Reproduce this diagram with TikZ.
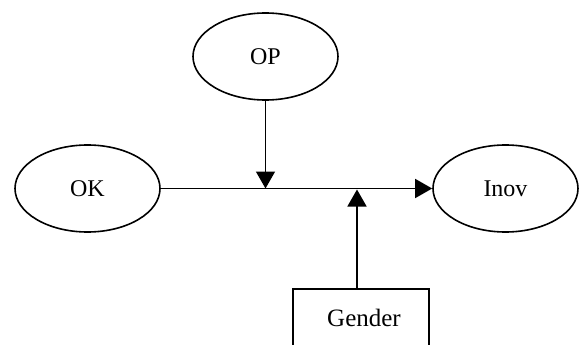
\documentclass[tikz,border=0pt]{standalone}
\usepackage{fontspec}
\setmainfont{Liberation Serif}
\usetikzlibrary{shapes.geometric,arrows.meta}
\begin{document}
\begin{tikzpicture}[x=1pt,y=-1pt,
  ell/.style={draw,ellipse,line width=1.6pt,minimum width=145pt,minimum height=87pt,inner sep=0pt,font=\fontsize{24}{27}\selectfont},
  boxnode/.style={draw,rectangle,line width=1.6pt,minimum width=136pt,minimum height=72pt,inner sep=0pt},
  conn/.style={line width=1.6pt,-{Triangle[length=17pt,width=19pt]}}]
\useasboundingbox (0,0) rectangle (579,345);
\node[ell] (OP) at (265.5,56.5) {OP};
\node[ell] (OK) at (87.5,188.5) {OK};
\node[ell] (Inov) at (505.5,188.5) {Inov};
\node[boxnode] (Gender) at (361,325) {};
\node[font=\fontsize{25}{28}\selectfont] (GenderText) at (364,318) {Gender};
\coordinate (j1) at (OP.south |- OK.east);
\coordinate (gtop) at (357,289);
\coordinate (j2) at (357,189.5);
\draw[conn] (OK.east) -- (Inov.west);
\draw[conn] (OP.south) -- (j1);
\draw[conn] (gtop) -- (j2);
\end{tikzpicture}
\end{document}
